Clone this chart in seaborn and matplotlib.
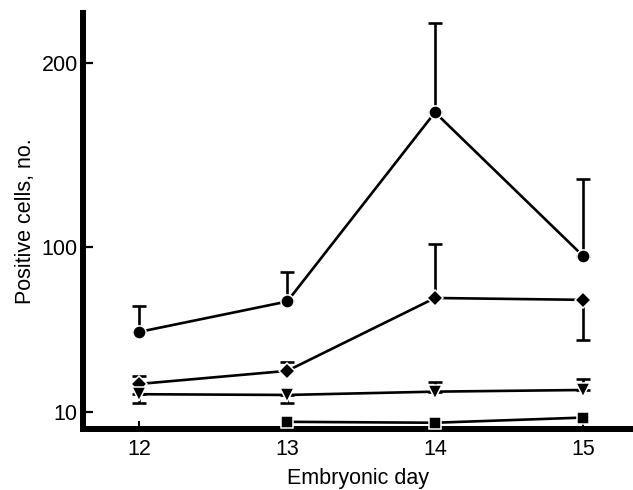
import matplotlib
matplotlib.use("Agg")
import matplotlib.pyplot as plt
import numpy as np
import pandas as pd
import seaborn as sns

sns.set_theme(style="ticks")
plt.rcParams['font.family'] = ['Liberation Sans', 'DejaVu Sans']

# values
days = [12, 13, 14, 15]

circle_vals = [53.7, 70.2, 173.0, 95.1]
circle_err_up = [14.3, 16.0, 48.7, 41.8]
circle_err_lo = [0, 0, 0, 0]

diamond_vals = [25.4, 32.5, 72.1, 71.1]
diamond_err_up = [4.5, 5.0, 29.5, 0]
diamond_err_lo = [0, 0, 0, 21.8]

triangle_vals = [19.8, 19.4, 21.2, 22.1]
triangle_err_up = [0, 0, 5.1, 5.8]
triangle_err_lo = [4.9, 4.2, 0, 0]

square_days = [13, 14, 15]
square_vals = [4.8, 4.3, 7.1]

y_ticks = [10, 100, 200]


def main():
    fig = plt.figure(figsize=(6.33, 4.90), dpi=100)
    ax = fig.add_axes([0.1316, 0.1245, 0.8684, 0.849])

    series = [
        (days, circle_vals, 'o', 9.5, circle_err_lo, circle_err_up),
        (days, diamond_vals, 'D', 8.5, diamond_err_lo, diamond_err_up),
        (days, triangle_vals, 'v', 10, triangle_err_lo, triangle_err_up),
        (square_days, square_vals, 's', 9, None, None),
    ]

    for x, y, mk, ms, elo, eup in series:
        if elo is not None:
            ax.errorbar(x, y, yerr=[elo, eup], fmt='none', ecolor='black',
                        elinewidth=1.9, capsize=5, capthick=1.9, zorder=2)
        sns.lineplot(x=x, y=y, ax=ax, color='black', linewidth=1.9,
                     marker=mk, markersize=ms, markerfacecolor='black',
                     markeredgecolor='white', markeredgewidth=1.1,
                     zorder=3, legend=False)

    ax.set_xlim(11.62, 15.34)
    ax.set_ylim(0.9, 227)
    ax.set_xticks(days)
    ax.set_yticks(y_ticks)
    ax.set_xticklabels([str(d) for d in days])

    for side in ['top', 'right']:
        ax.spines[side].set_visible(False)
    for side in ['left', 'bottom']:
        ax.spines[side].set_linewidth(4.3)
        ax.spines[side].set_color('black')

    ax.tick_params(axis='y', direction='in', length=7, width=1.6,
                   labelsize=15.5, pad=4, colors='black')
    ax.tick_params(axis='x', direction='in', length=6, width=1.4,
                   labelsize=15.5, pad=7, colors='black')

    ax.set_xlabel('Embryonic day', fontsize=15.5, labelpad=6, color='black')
    ax.set_ylabel('Positive cells, no.', fontsize=15.5, labelpad=4, color='black')

    fig.savefig('out.png', dpi=100)


if __name__ == '__main__':
    main()
